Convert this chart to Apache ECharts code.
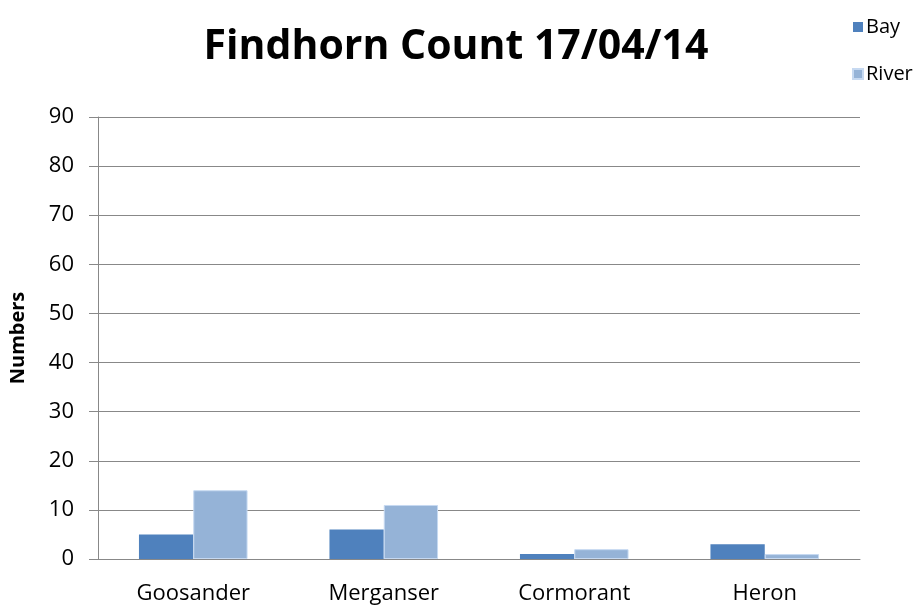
<!DOCTYPE html>
<html><head><meta charset="utf-8">
<script src="https://cdn.jsdelivr.net/npm/echarts@6/dist/echarts.min.js"></script>
<style>html,body{margin:0;padding:0;background:#fff}#c{width:921px;height:605px}</style>
</head><body><div id="c"></div>
<script>
const categories = ["Goosander", "Merganser", "Cormorant", "Heron"];
const bayValues = [5, 6, 1, 3];
const riverValues = [14, 11, 2, 1];
const yTicks = [0, 10, 20, 30, 40, 50, 60, 70, 80, 90];

const font = '"Open Sans", "Liberation Sans", sans-serif';
const chart = echarts.init(document.getElementById('c'), null, {renderer: 'canvas'});
chart.setOption({
  animation: false,
  backgroundColor: '#fff',
  title: {
    text: 'Findhorn Count 17/04/14',
    left: 451, top: 22, textAlign: 'center',
    textStyle: {fontFamily: font, fontWeight: 'bold', fontSize: 41, color: '#000'}
  },
  legend: {
    orient: 'vertical', left: 847, top: 12, itemGap: 27,
    itemWidth: 10, itemHeight: 10, icon: 'rect',
    textStyle: {fontFamily: font, fontSize: 20, color: '#000', padding: [0,0,0,-2]},
    data: ['Bay', 'River']
  },
  grid: {left: 97, right: 61, top: 117, bottom: 46, containLabel: false},
  xAxis: {
    type: 'category', data: categories,
    axisLine: {lineStyle: {color: '#888', width: 1}},
    axisTick: {show: false},
    axisLabel: {fontFamily: font, fontSize: 22, color: '#000', margin: 24}
  },
  yAxis: {
    type: 'value', min: yTicks[0], max: yTicks[yTicks.length - 1], interval: 10,
    name: 'Numbers', nameLocation: 'middle', nameGap: 70, nameRotate: 90,
    nameTextStyle: {fontFamily: font, fontWeight: 'bold', fontSize: 20, color: '#000'},
    axisLine: {show: true, lineStyle: {color: '#888'}},
    axisTick: {show: true, inside: false, length: 9, lineStyle: {color: '#888'}},
    axisLabel: {fontFamily: font, fontSize: 22, color: '#000', margin: 24},
    splitLine: {lineStyle: {color: '#888', width: 1}}
  },
  series: [
    {name: 'Bay', type: 'bar', data: bayValues, barGap: '0%', barCategoryGap: '43%',
     itemStyle: {color: '#4F81BD', borderWidth: 0}},
    {name: 'River', type: 'bar', data: riverValues, barGap: '0%', barCategoryGap: '43%',
     itemStyle: {color: '#95B3D7', borderColor: '#c6d9f1', borderWidth: 1}}
  ]
});
</script></body></html>
